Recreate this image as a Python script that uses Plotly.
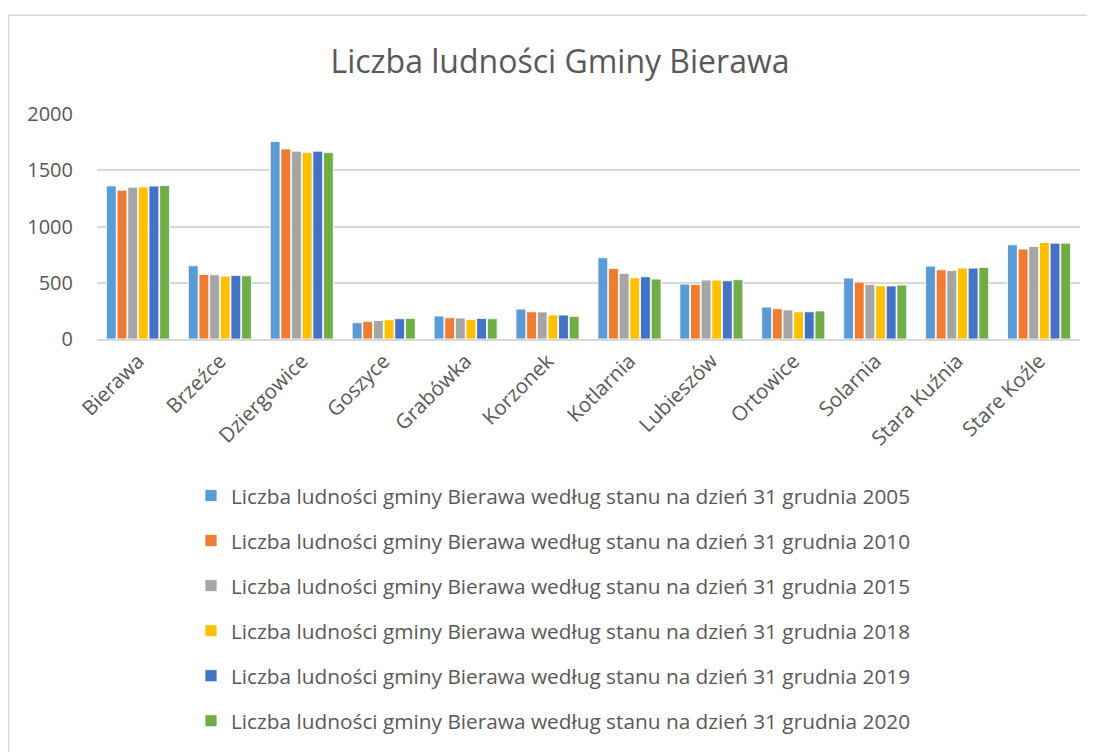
import plotly.graph_objects as go

categories = ["Bierawa", "Brzeźce", "Dziergowice", "Goszyce", "Grabówka", "Korzonek",
              "Kotlarnia", "Lubieszów", "Ortowice", "Solarnia", "Stara Kuźnia", "Stare Koźle"]

v2005 = [1361, 651, 1755, 145, 204, 266, 722, 488, 284, 542, 648, 837]
v2010 = [1323, 574, 1690, 156, 189, 242, 627, 485, 269, 506, 615, 799]
v2015 = [1350, 571, 1669, 165, 186, 240, 583, 524, 258, 485, 609, 822]
v2018 = [1352, 559, 1657, 171, 174, 213, 544, 524, 242, 473, 630, 858]
v2019 = [1359, 565, 1669, 180, 183, 213, 553, 518, 242, 471, 630, 852]
v2020 = [1364, 562, 1657, 183, 180, 201, 533, 527, 249, 480, 636, 852]

series_names = ["Liczba ludności gminy Bierawa według stanu na dzień 31 grudnia " + y
                for y in ["2005", "2010", "2015", "2018", "2019", "2020"]]
series_values = [v2005, v2010, v2015, v2018, v2019, v2020]
colors = ["#5B9BD5", "#ED7D31", "#A5A5A5", "#FFC000", "#4472C4", "#70AD47"]

yticks = [0, 500, 1000, 1500, 2000]

FONT = "Open Sans"
TXT = "#595959"
GRID = "#D9D9D9"

# page body has an 8px margin, so the figure is drawn 8px smaller and shifted
W, H = 1087, 744
L, T, R = 89, 106, 15
PB = 331.3  # plot bottom in figure px
B = H - PB
PH = PB - T
PW = W - L - R

fig = go.Figure()
for i, (name, vals, col) in enumerate(zip(series_names, series_values, colors)):
    fig.add_trace(go.Bar(
        x=categories, y=vals, name=name,
        marker=dict(color=col, line=dict(color="white", width=0.8)),
        legendgroup="g%d" % i,
    ))

fig.update_layout(
    width=W, height=H,
    margin=dict(l=L, r=R, t=T, b=B, autoexpand=False),
    paper_bgcolor="white", plot_bgcolor="white",
    barmode="group", bargap=0.22, bargroupgap=0.08,
    font=dict(family=FONT, color=TXT, size=20),
    title=dict(text="Liczba ludności Gminy Bierawa", x=552 / W, xanchor="center",
               y=1 - 54 / H, yanchor="middle",
               font=dict(family=FONT, size=32, color=TXT)),
    showlegend=True,
    legend=dict(orientation="v", x=(183 - L) / PW, xanchor="left",
                y=(PB - 468) / PH, yanchor="top",
                font=dict(family=FONT, size=20.8, color=TXT),
                tracegroupgap=15, itemwidth=30, bgcolor="rgba(0,0,0,0)"),
    xaxis=dict(tickangle=-45, showgrid=False, showline=True, linecolor=GRID, linewidth=2,
               ticks="", tickfont=dict(family=FONT, size=20.5, color=TXT)),
    yaxis=dict(range=[0, 2000], tickvals=yticks, showgrid=True, gridcolor=GRID, gridwidth=1.5,
               zeroline=False, showline=False, ticks="", ticklabelstandoff=23,
               tickfont=dict(family=FONT, size=20, color=TXT)),
    shapes=[dict(type="rect", xref="paper", yref="paper",
                 x0=(0.75 - L) / PW, x1=1.05, y0=-2.0, y1=(PB - 7) / PH,
                 line=dict(color=GRID, width=1.5), fillcolor="rgba(0,0,0,0)", layer="below")],
)

fig.write_html("out.html")
